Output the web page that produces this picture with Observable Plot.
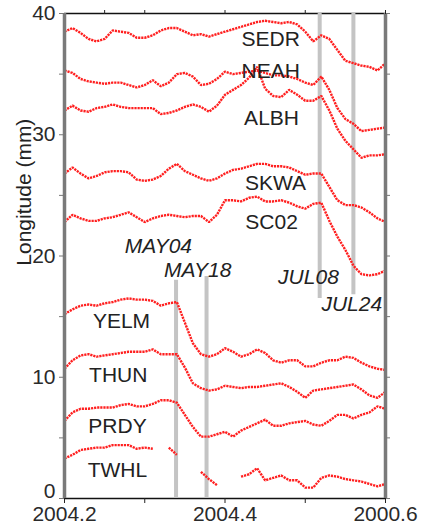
<!DOCTYPE html>
<html>
<head>
<meta charset="utf-8">
<script src="https://cdn.jsdelivr.net/npm/d3@7"></script>
<script src="https://cdn.jsdelivr.net/npm/@observablehq/plot@0.6"></script>
<style>
  html, body { margin: 0; padding: 0; background: #fff; }
  #chart svg { display: block; }
</style>
</head>
<body>
<div id="chart"></div>
<script>
// ---------- DATA ----------
const years = [2004.20, 2004.21, 2004.22, 2004.23, 2004.24, 2004.25, 2004.26, 2004.27, 2004.28, 2004.29,
               2004.30, 2004.31, 2004.32, 2004.33, 2004.34, 2004.35, 2004.36, 2004.37, 2004.38, 2004.39,
               2004.40, 2004.41, 2004.42, 2004.43, 2004.44, 2004.45, 2004.46, 2004.47, 2004.48, 2004.49,
               2004.50, 2004.51, 2004.52, 2004.53, 2004.54, 2004.55, 2004.56, 2004.57, 2004.58, 2004.59,
               2004.60];

const stations = ["SEDR", "NEAH", "ALBH", "SKWA", "SC02", "YELM", "THUN", "PRDY", "TWHL"];

const SEDR = [38.5,38.8,38.4,37.9,37.7,37.9,38.6,38.5,38.4,38.0,38.0,38.2,38.6,38.8,38.8,38.5,38.2,38.3,38.1,38.3,38.5,38.7,38.9,39.1,39.3,39.4,39.3,39.2,39.3,39.1,38.5,37.7,38.2,37.9,37.0,36.1,35.9,35.7,35.6,35.3,35.9];
const NEAH = [35.3,35.1,34.6,34.4,34.3,34.2,34.3,34.3,34.1,33.9,34.1,34.5,34.0,34.3,35.0,35.1,34.8,34.1,34.2,34.6,35.2,35.0,35.1,35.2,35.3,35.1,34.9,34.9,34.8,34.6,34.3,34.1,34.8,33.7,32.2,31.3,30.9,30.3,30.4,30.5,30.6];
const ALBH = [32.0,32.4,32.0,31.9,32.2,32.3,32.5,32.3,32.2,32.2,32.2,32.2,31.7,31.8,32.0,32.3,32.5,32.3,31.9,32.4,33.3,33.7,34.1,34.7,35.6,33.8,33.2,33.1,33.7,33.3,32.8,32.8,33.2,32.0,30.5,29.5,28.8,28.1,28.3,28.3,28.4];
const SKWA = [26.8,27.3,26.8,26.4,26.6,26.9,27.0,27.0,26.9,26.3,26.2,26.3,26.6,27.2,27.6,27.0,26.7,26.4,26.2,26.4,26.8,27.1,27.2,27.4,27.6,27.6,27.4,27.4,27.3,27.0,26.7,26.8,26.8,25.7,24.6,24.2,24.2,24.0,23.6,23.1,22.8];
const SC02 = [22.8,23.4,23.1,22.9,22.9,23.1,23.2,23.4,23.6,23.2,22.8,23.1,23.3,23.4,23.3,23.2,23.3,23.3,22.8,23.4,24.6,24.6,24.5,24.8,24.9,24.5,24.5,24.6,24.4,24.1,23.9,24.3,24.4,22.9,21.6,20.5,19.2,18.5,18.4,18.5,18.8];
const YELM = [15.2,15.6,15.9,16.0,15.9,16.1,16.2,16.4,16.5,16.4,16.4,16.3,15.9,16.1,16.2,14.5,12.8,11.9,11.7,11.9,12.4,12.1,11.7,11.9,12.3,12.0,11.4,11.2,11.4,11.4,10.9,10.9,11.2,11.4,11.4,11.7,11.6,11.2,10.9,10.7,10.6];
const THUN = [10.7,11.4,11.8,11.9,11.7,11.8,11.9,12.0,12.1,12.1,12.1,12.3,11.9,11.9,11.9,10.8,9.5,9.1,8.9,9.0,9.3,9.2,9.1,9.2,9.2,9.3,9.4,9.5,9.2,8.8,8.3,8.9,9.0,9.1,9.2,9.3,9.4,9.0,8.5,8.3,8.8];
const PRDY = [6.4,7.1,7.4,7.4,7.5,7.5,7.5,7.7,7.8,7.6,7.6,7.8,8.1,8.1,7.9,6.9,5.9,5.1,5.1,5.3,5.5,5.1,5.6,5.9,6.2,6.5,6.0,6.0,6.2,6.3,6.4,6.1,6.0,6.4,6.9,6.9,6.6,6.9,7.1,7.6,7.4];
const TWHL = [3.3,3.6,4.0,4.1,4.2,4.2,4.4,4.4,4.4,4.1,4.2,4.1,null,4.2,3.6,null,null,2.2,1.6,1.1,null,null,1.8,2.0,2.5,1.5,1.7,1.9,1.5,1.5,0.9,0.9,1.7,1.9,1.8,1.6,1.5,1.4,1.2,1.0,1.2];

const events = ["MAY04", "MAY18", "JUL08", "JUL24"];
const eventYears = [2004.339, 2004.377, 2004.518, 2004.560];
const eventLow = [0, 0, 16.5, 16.8];
const eventHigh = [18.0, 18.3, 40, 40];

const xTicks = [2004.2, 2004.3, 2004.4, 2004.5, 2004.6];
const xTickText = ["2004.2", "", "2004.4", "", "2000.6"];
const topTicks = [2004.25, 2004.3, 2004.4, 2004.5, 2004.6];
const yTicks = [0, 5, 10, 15, 20, 25, 30, 35, 40];
const yTickText = ["0", "", "10", "", "20", "", "30", "", "40"];
const yTitle = "Longitude (mm)";

// ---------- LAYOUT (label placement, in data units) ----------
const stationLabelX = [2004.457, 2004.457, 2004.458, 2004.463, 2004.458, 2004.271, 2004.267, 2004.266, 2004.266];
const stationLabelY = [37.9, 35.2, 31.4, 26.0, 22.8, 14.6, 10.2, 5.95, 2.3];
const eventLabelX = [2004.317, 2004.366, 2004.504, 2004.558];
const eventLabelY = [20.8, 18.8, 18.25, 16.0];

// ---------- BUILD TABLE ----------
const seriesValues = [SEDR, NEAH, ALBH, SKWA, SC02, YELM, THUN, PRDY, TWHL];
const rows = [];
stations.forEach((s, k) => {
  years.forEach((t, i) => rows.push({station: s, t, v: seriesValues[k][i]}));
});

const fmtX = d => { const i = xTicks.findIndex(t => Math.abs(t - d) < 1e-9); return i < 0 ? "" : xTickText[i]; };
// the "0" label sits raised above its tick in the reference; it is drawn separately below
const fmtY = d => { const i = yTicks.indexOf(d); return (i <= 0) ? "" : yTickText[i]; };

const chart = Plot.plot({
  width: 422,
  height: 531,
  marginLeft: 64,
  marginRight: 37,
  marginTop: 13,
  marginBottom: 33,
  x: {domain: [2004.2, 2004.6], label: null},
  y: {domain: [0, 40], label: null},
  style: {fontFamily: "'Liberation Sans', Arial, Helvetica, sans-serif", fontSize: "21px", color: "#222", background: "#fff"},
  marks: [
    // top / bottom frame lines
    Plot.ruleY([40], {stroke: "#111", strokeWidth: 1.5}),
    Plot.ruleY([0], {stroke: "#111", strokeWidth: 1.5}),
    // event bars
    Plot.ruleX(events, {x: (d, i) => eventYears[i], y1: (d, i) => eventLow[i], y2: (d, i) => eventHigh[i], stroke: "#c4c4c4", strokeWidth: 4}),
    // data (dotted, like daily GPS solutions)
    Plot.line(rows, {x: "t", y: "v", z: "station", stroke: "#ff1f1f", strokeWidth: 2.4, strokeDasharray: "2.2,0.9", strokeLinecap: "butt", strokeLinejoin: "miter"}),
    // left / right gray axis lines
    Plot.ruleX([2004.2], {stroke: "#7a7a7a", strokeWidth: 3.5}),
    Plot.ruleX([2004.6], {stroke: "#7a7a7a", strokeWidth: 3.5}),
    // axes
    Plot.axisY({anchor: "left", ticks: yTicks, tickFormat: fmtY, tickSize: 5, tickPadding: 4, stroke: "#777", fill: "#2a2a2a", label: null}),
    Plot.text([yTickText[0]], {x: [xTicks[0]], y: [yTicks[0]], text: d => d, textAnchor: "end", lineAnchor: "bottom", dx: -9, dy: -1, fill: "#2a2a2a", fontSize: 21}),
    Plot.axisY({anchor: "right", ticks: yTicks, tickSize: 4, stroke: "#777", fill: "none", label: null}),
    Plot.axisX({anchor: "bottom", ticks: xTicks, tickFormat: fmtX, tickSize: 5, tickPadding: 3, stroke: "#222", fill: "#2a2a2a", label: null}),
    Plot.axisX({anchor: "top", ticks: topTicks, tickSize: 4, stroke: "#222", fill: "none", label: null}),
    // labels
    Plot.text(stations, {x: (d, i) => stationLabelX[i], y: (d, i) => stationLabelY[i], text: d => d, fill: "#222", fontSize: 21, letterSpacing: 0.5}),
    Plot.text(events, {x: (d, i) => eventLabelX[i], y: (d, i) => eventLabelY[i], text: d => d, fill: "#222", fontSize: 21, fontStyle: "italic"}),
    Plot.text([yTitle], {frameAnchor: "left", dx: -40, y: [19.2], text: d => d, rotate: -90, fill: "#222", fontSize: 21})
  ]
});
document.getElementById("chart").appendChild(chart);
</script>
</body>
</html>
